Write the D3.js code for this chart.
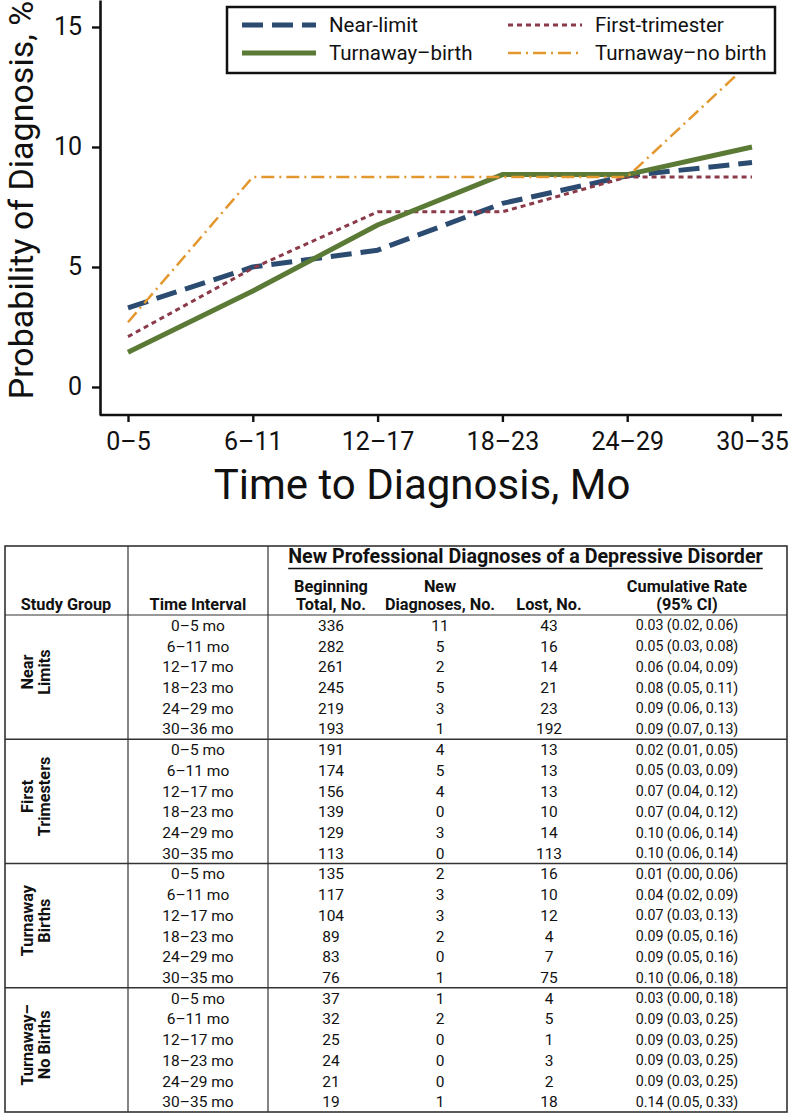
<!DOCTYPE html>
<html><head><meta charset="utf-8">
<script src="https://cdn.jsdelivr.net/npm/d3@7"></script>
<style>
body{margin:0;background:#fff}
svg{display:block}
text{font-family:Roboto,"Open Sans",sans-serif;fill:#111}
</style>
</head><body><svg id="c" width="791" height="1113"></svg>
<script>
// ---- chart data ----
const categories = ["0–5","6–11","12–17","18–23","24–29","30–35"];
const seriesNames = ["Near-limit","First-trimester","Turnaway–birth","Turnaway–no birth"];
const nearLimit      = [3.3, 5.0, 5.7, 7.65, 8.8, 9.35];
const firstTrimester = [2.1, 4.95, 7.3, 7.3, 8.75, 8.75];
const turnawayBirth  = [1.45, 4.0, 6.75, 8.85, 8.85, 10.0];
const turnawayNoBirth= [2.7, 8.75, 8.75, 8.75, 8.75, 13.6];
const yTicks = [0,5,10,15];
const xTitle = "Time to Diagnosis, Mo";
const yTitle = "Probability of Diagnosis, %";

// ---- table data ----
const tableTitle = "New Professional Diagnoses of a Depressive Disorder";
const groupLabels = [["Near","Limits"],["First","Trimesters"],["Turnaway","Births"],["Turnaway–","No Births"]];
const intervals = [
  ["0–5 mo","6–11 mo","12–17 mo","18–23 mo","24–29 mo","30–36 mo"],
  ["0–5 mo","6–11 mo","12–17 mo","18–23 mo","24–29 mo","30–35 mo"],
  ["0–5 mo","6–11 mo","12–17 mo","18–23 mo","24–29 mo","30–35 mo"],
  ["0–5 mo","6–11 mo","12–17 mo","18–23 mo","24–29 mo","30–35 mo"]];
const beginTotal = [[336,282,261,245,219,193],[191,174,156,139,129,113],[135,117,104,89,83,76],[37,32,25,24,21,19]];
const newDiagnoses = [[11,5,2,5,3,1],[4,5,4,0,3,0],[2,3,3,2,0,1],[1,2,0,0,0,1]];
const lostNo = [[43,16,14,21,23,192],[13,13,13,10,14,113],[16,10,12,4,7,75],[4,5,1,3,2,18]];
const cumRate = [
  ["0.03 (0.02, 0.06)","0.05 (0.03, 0.08)","0.06 (0.04, 0.09)","0.08 (0.05, 0.11)","0.09 (0.06, 0.13)","0.09 (0.07, 0.13)"],
  ["0.02 (0.01, 0.05)","0.05 (0.03, 0.09)","0.07 (0.04, 0.12)","0.07 (0.04, 0.12)","0.10 (0.06, 0.14)","0.10 (0.06, 0.14)"],
  ["0.01 (0.00, 0.06)","0.04 (0.02, 0.09)","0.07 (0.03, 0.13)","0.09 (0.05, 0.16)","0.09 (0.05, 0.16)","0.10 (0.06, 0.18)"],
  ["0.03 (0.00, 0.18)","0.09 (0.03, 0.25)","0.09 (0.03, 0.25)","0.09 (0.03, 0.25)","0.09 (0.03, 0.25)","0.14 (0.05, 0.33)"]];
const headerCols = [["Study Group"],["Time Interval"],["Beginning","Total, No."],["New","Diagnoses, No."],["Lost, No."],["Cumulative Rate","(95% CI)"]];

// ---- styles ----
const seriesValues = [nearLimit, firstTrimester, turnawayBirth, turnawayNoBirth];
const styles = [
  {color:"#2b4b70", width:5,   dash:"21,9"},
  {color:"#8a3a48", width:3,   dash:"5,4"},
  {color:"#5a7a36", width:5,   dash:null},
  {color:"#e3972f", width:2.5, dash:"13,5,2,5"}
];

const svg = d3.select("#c");

// ---- chart ----
const x = d3.scalePoint().domain(categories).range([128, 752]);
const y = d3.scaleLinear().domain([-1.167, 16.125]).range([415, 0]);

const yAx = svg.append("g").attr("transform","translate(100,0)")
  .call(d3.axisLeft(y).tickValues(yTicks).tickSize(8).tickSizeOuter(0).tickPadding(10));
yAx.select(".domain").attr("stroke","#111").attr("stroke-width",2.6);
yAx.selectAll(".tick line").attr("stroke","#111").attr("stroke-width",2.4);
yAx.selectAll(".tick text").attr("font-size",25).attr("fill","#111");

const xAx = svg.append("g").attr("transform","translate(0,415)")
  .call(d3.axisBottom(x).tickSize(7).tickPadding(10));
xAx.select(".domain").remove();
xAx.selectAll(".tick line").attr("stroke","#111").attr("stroke-width",2.4);
xAx.selectAll(".tick text").attr("font-size",25).attr("fill","#111");
svg.append("line").attr("x1",100).attr("x2",782).attr("y1",415).attr("y2",415)
  .attr("stroke","#111").attr("stroke-width",2.6);

svg.append("text").attr("x",422).attr("y",499).attr("text-anchor","middle")
  .attr("font-size",42).text(xTitle);
svg.append("text").attr("transform","translate(33,200) rotate(-90)").attr("text-anchor","middle")
  .attr("font-size",34).text(yTitle);

const line = d3.line().x((d,i)=>x(categories[i])).y(d=>y(d));
seriesValues.forEach((vals,k)=>{
  const st = styles[k];
  svg.append("path").datum(vals).attr("d",line).attr("fill","none")
    .attr("stroke",st.color).attr("stroke-width",st.width)
    .attr("stroke-linejoin","round")
    .attr("stroke-dasharray",st.dash);
});

// legend
const lg = svg.append("g");
lg.append("rect").attr("x",227).attr("y",7).attr("width",548).attr("height",66)
  .attr("fill","#fff").attr("stroke","#111").attr("stroke-width",2.5);
const legPos = [[242,25],[508,25],[242,53],[508,53]];
[0,1,2,3].forEach((k,i)=>{
  const [lx,ly] = legPos[i];
  const st = styles[k];
  lg.append("line").attr("x1",lx).attr("x2",lx+74).attr("y1",ly).attr("y2",ly)
    .attr("stroke",st.color).attr("stroke-width",st.width).attr("stroke-dasharray",st.dash);
  lg.append("text").attr("x",lx+87).attr("y",ly).attr("dy","0.36em")
    .attr("font-size",20.5).text(seriesNames[k]);
});

// ---- table ----
const T = {left:5, right:787, top:546, headBottom:615, bottom:1112};
const colX = [128, 268];
const colCenter = [66, 198, 331, 440, 549, 687];
const nRows = 24;
const rowY = d3.scaleLinear().domain([0,nRows]).range([T.headBottom, T.bottom]);
const tg = svg.append("g");
const lineCol = "#333";

tg.append("rect").attr("x",T.left).attr("y",T.top).attr("width",T.right-T.left).attr("height",T.bottom-T.top)
  .attr("fill","none").attr("stroke",lineCol).attr("stroke-width",1.6);
colX.forEach(cx=>tg.append("line").attr("x1",cx).attr("x2",cx).attr("y1",T.top).attr("y2",T.bottom)
  .attr("stroke",lineCol).attr("stroke-width",1.2));
tg.append("line").attr("x1",T.left).attr("x2",T.right).attr("y1",T.headBottom).attr("y2",T.headBottom)
  .attr("stroke",lineCol).attr("stroke-width",1.2);
[6,12,18].forEach(r=>tg.append("line").attr("x1",T.left).attr("x2",T.right).attr("y1",rowY(r)).attr("y2",rowY(r))
  .attr("stroke",lineCol).attr("stroke-width",1.6));

// title
const tcx = (colX[1]+T.right)/2-2;
const tt = tg.append("text").attr("x",tcx).attr("y",563).attr("text-anchor","middle")
  .attr("font-size",19.7).attr("font-weight","bold").text(tableTitle);
const tw = tt.node().getComputedTextLength();
tg.append("line").attr("x1",tcx-tw/2).attr("x2",tcx+tw/2).attr("y1",568.5).attr("y2",568.5)
  .attr("stroke","#111").attr("stroke-width",1.4);

// header cols
headerCols.forEach((lines,c)=>{
  lines.forEach((s,j)=>{
    const base = 610 - (lines.length-1-j)*18;
    tg.append("text").attr("x",colCenter[c]).attr("y",base).attr("text-anchor","middle")
      .attr("font-size",16.3).attr("font-weight","bold").text(s);
  });
});

// body
const body = [intervals, beginTotal, newDiagnoses, lostNo, cumRate];
for(let g=0; g<4; g++){
  for(let r=0; r<6; r++){
    const ri = g*6 + r;
    const cy = (rowY(ri)+rowY(ri+1))/2;
    body.forEach((arr,c)=>{
      tg.append("text").attr("x",colCenter[c+1]).attr("y",cy).attr("dy","0.36em")
        .attr("text-anchor","middle").attr("font-size",c===4?14.2:15.5).text(arr[g][r]);
    });
  }
  const gc = (rowY(g*6)+rowY(g*6+6))/2 - 5;
  groupLabels[g].forEach((s,j)=>{
    tg.append("text").attr("transform",`translate(${33+j*17},${gc}) rotate(-90)`)
      .attr("text-anchor","middle").attr("font-size",16.3).attr("font-weight","bold").text(s);
  });
}
</script>
</body></html>
